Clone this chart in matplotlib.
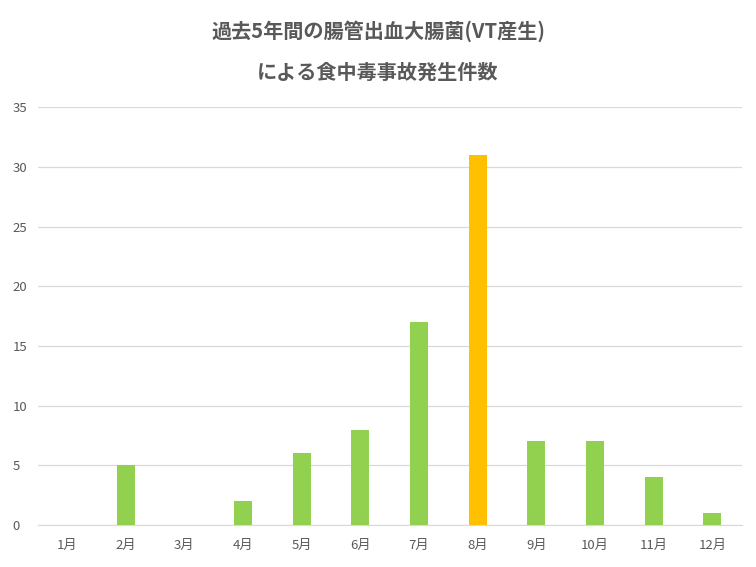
import matplotlib
matplotlib.use("Agg")
import matplotlib.pyplot as plt

months = ["1月", "2月", "3月", "4月", "5月", "6月", "7月", "8月", "9月", "10月", "11月", "12月"]
counts = [0, 5, 0, 2, 6, 8, 17, 31, 7, 7, 4, 1]
highlight = "8月"
yticks = [0, 5, 10, 15, 20, 25, 30, 35]

plt.rcParams['font.family'] = ['Noto Sans CJK JP', 'DejaVu Sans']

fig = plt.figure(figsize=(7.56, 5.67), dpi=100)
ax = fig.add_axes([0.050, 0.074, 0.931, 0.737])

colors = ["#FFC000" if m == highlight else "#92D050" for m in months]
x = list(range(len(months)))
ax.bar(x, counts, width=0.31, color=colors, zorder=3)

ax.set_xlim(-0.5, len(months) - 0.5)
ax.set_ylim(0, 35)
ax.set_yticks(yticks)
ax.set_xticks(x)
ax.set_xticklabels(months)
ax.yaxis.grid(True, color="#D9D9D9", linewidth=0.9, zorder=0)
ax.set_axisbelow(True)
for s in ["top", "right", "left"]:
    ax.spines[s].set_visible(False)
ax.spines["bottom"].set_color("#D9D9D9")
ax.tick_params(axis="both", length=0, labelsize=9.5, labelcolor="#595959")
ax.tick_params(axis="x", pad=10)
ax.tick_params(axis="y", pad=18)
for lab in ax.get_yticklabels():
    lab.set_horizontalalignment("left")

fig.text(0.5, 0.945, "過去5年間の腸管出血大腸菌(VT産生)", ha="center", va="center",
         fontsize=14.5, fontweight="bold", color="#595959")
fig.text(0.5, 0.872, "による食中毒事故発生件数", ha="center", va="center",
         fontsize=14.5, fontweight="bold", color="#595959")

fig.savefig("out.png", dpi=100)
